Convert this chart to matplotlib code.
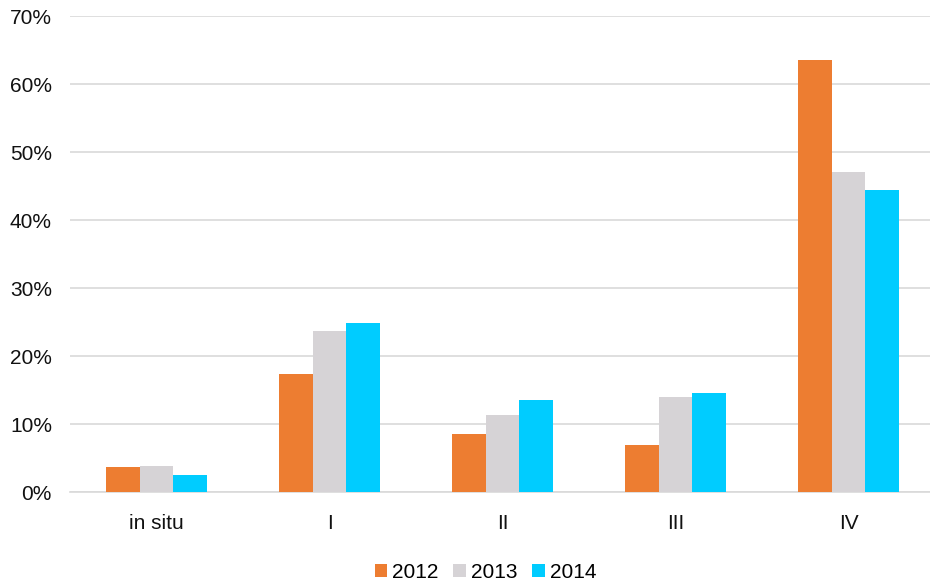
import matplotlib
matplotlib.use("Agg")
import matplotlib.pyplot as plt
import numpy as np

categories = ["in situ", "I", "II", "III", "IV"]
years = ["2012", "2013", "2014"]
v2012 = [3.7, 17.4, 8.5, 6.9, 63.5]
v2013 = [3.8, 23.7, 11.3, 14.0, 47.1]
v2014 = [2.5, 24.9, 13.5, 14.6, 44.4]
colors = ["#ED7D31", "#D6D3D6", "#00CCFF"]

plt.rcParams["font.family"] = ["Liberation Sans", "DejaVu Sans"]
fig = plt.figure(figsize=(9.3, 5.8), dpi=100)
ax = fig.add_axes([70/930, 1-492/580, 865/930, (492-16)/580])

x = np.arange(len(categories))
w = 0.193
for i, (vals, c, lab) in enumerate(zip([v2012, v2013, v2014], colors, years)):
    ax.bar(x + (i-1)*w, vals, width=w, color=c, label=lab, zorder=3)

fs = 15
ax.set_xlim(-0.5, 4.5)
ax.set_ylim(0, 70)
ax.set_yticks(np.arange(0, 71, 10))
ax.set_yticklabels([f"{v}%" for v in range(0, 71, 10)], fontsize=fs, color="#111111")
ax.set_xticks(x)
ax.set_xticklabels(categories, fontsize=fs, color="#111111")
ax.tick_params(axis="y", length=0, pad=13)
ax.tick_params(axis="x", length=0, pad=16)
ax.yaxis.grid(True, color="#D9D9D9", linewidth=1.2, zorder=0)
for s in ["top", "right", "left"]:
    ax.spines[s].set_visible(False)
ax.spines["bottom"].set_color("#D9D9D9")
ax.spines["bottom"].set_linewidth(1.2)

fig.legend(loc="lower center", bbox_to_anchor=(0.522, -0.035), ncol=3, frameon=False,
           fontsize=fs, handlelength=0.6, handleheight=0.6, handletextpad=0.25,
           columnspacing=0.7)
fig.savefig("out.png", dpi=100)
